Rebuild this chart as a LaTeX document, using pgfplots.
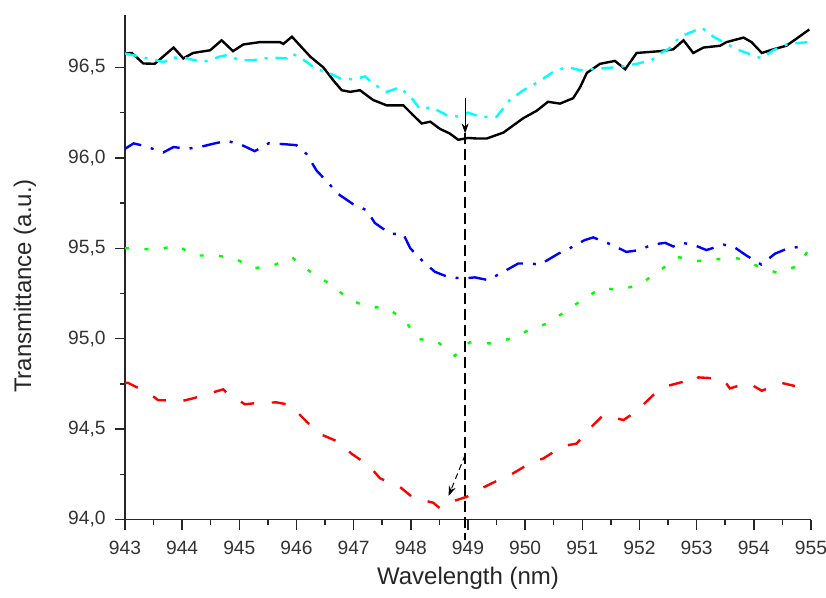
\documentclass[border=0pt]{standalone}
\usepackage{fontspec}
\setmainfont{Liberation Sans}
\usepackage{pgfplots}
\pgfplotsset{compat=1.18}
\usetikzlibrary{arrows.meta}
\definecolor{cCyan}{RGB}{0,255,255}
\definecolor{cBlue}{RGB}{0,0,255}
\definecolor{cGreen}{RGB}{0,255,0}
\definecolor{cRed}{RGB}{255,0,0}
\begin{document}
\begin{tikzpicture}
\begin{axis}[
  name=ax,
  scale only axis,
  width=343pt, height=252.25pt,
  xmin=943, xmax=955, ymin=94, ymax=96.79,
  axis x line=bottom, axis y line=left,
  axis line style={-, line width=0.75pt, black!85},
  xtick={943,944,945,946,947,948,949,950,951,952,953,954,955},
  ytick={94,94.5,95,95.5,96,96.5},
  minor x tick num=1, minor y tick num=1,
  tick align=outside,
  major tick length=5pt, minor tick length=2.5pt,
  every tick/.style={line width=0.75pt, black!85},
  /pgf/number format/assume math mode=true,
  xticklabel style={font=\fontsize{9.6}{11}\selectfont, text=black!80, yshift=-2.5pt,
    /pgf/number format/.cd, fixed, precision=0, 1000 sep={}},
  yticklabel style={font=\fontsize{9.6}{11}\selectfont, text=black!80, xshift=-1.2pt,
    /pgf/number format/.cd, use comma, fixed, fixed zerofill, precision=1},
  xlabel={Wavelength (nm)}, ylabel={Transmittance (a.u.)},
  label style={font=\fontsize{12}{14}\selectfont, text=black!85},
  xlabel style={at={(axis description cs:0.5,-0.116)}, anchor=center},
  ylabel style={at={(axis description cs:-0.1458,0.463)}, anchor=center},
  clip=false,
]
% black solid
\addplot[black, line width=1.2pt] coordinates {
(943.0,96.577)(943.12,96.58)(943.32,96.522)(943.52,96.52)(943.85,96.61)(944.02,96.55)(944.19,96.58)(944.49,96.595)(944.69,96.65)(944.89,96.59)(945.07,96.627)(945.36,96.64)(945.71,96.64)(945.77,96.63)(945.92,96.67)(946.24,96.56)(946.47,96.50)(946.64,96.43)(946.79,96.374)(946.94,96.365)(947.11,96.374)(947.34,96.32)(947.58,96.29)(947.87,96.29)(948.04,96.236)(948.19,96.19)(948.34,96.20)(948.51,96.16)(948.68,96.135)(948.83,96.10)(949.0,96.11)(949.15,96.107)(949.33,96.107)(949.62,96.14)(949.97,96.22)(950.20,96.26)(950.40,96.31)(950.61,96.30)(950.84,96.33)(950.96,96.39)(951.08,96.47)(951.31,96.52)(951.57,96.536)(951.75,96.49)(951.95,96.58)(952.36,96.59)(952.59,96.60)(952.77,96.65)(952.94,96.58)(953.12,96.61)(953.41,96.62)(953.52,96.64)(953.82,96.665)(953.96,96.64)(954.14,96.58)(954.34,96.60)(954.57,96.62)(954.75,96.66)(954.97,96.71)
};
% cyan dash-dot
\addplot[cCyan, line width=1.2pt, dash pattern=on 6pt off 4pt on 1.5pt off 4pt] coordinates {
(943.0,96.577)(943.26,96.56)(943.67,96.53)(943.85,96.555)(944.08,96.55)(944.37,96.53)(944.66,96.56)(944.78,96.568)(945.01,96.54)(945.24,96.54)(945.54,96.555)(945.83,96.55)(945.92,96.577)(946.09,96.55)(946.35,96.49)(946.53,96.475)(946.76,96.44)(946.99,96.434)(947.2,96.45)(947.34,96.41)(947.58,96.365)(947.81,96.39)(948.04,96.32)(948.16,96.27)(948.36,96.28)(948.63,96.236)(948.86,96.227)(949.0,96.25)(949.21,96.227)(949.5,96.227)(949.73,96.32)(949.97,96.374)(950.23,96.42)(950.49,96.475)(950.73,96.503)(950.96,96.485)(951.31,96.494)(951.66,96.503)(951.95,96.52)(952.21,96.54)(952.36,96.577)(952.52,96.605)(952.71,96.67)(952.94,96.70)(953.09,96.72)(953.29,96.67)(953.47,96.64)(953.70,96.60)(953.90,96.577)(954.14,96.55)(954.34,96.595)(954.6,96.63)(954.95,96.64)
};
% blue dash-dot
\addplot[cBlue, line width=1.2pt, dash pattern=on 9pt off 5pt on 1.5pt off 5pt] coordinates {
(943.0,96.05)(943.15,96.08)(943.35,96.065)(943.67,96.03)(943.85,96.06)(944.08,96.05)(944.31,96.06)(944.57,96.08)(944.78,96.094)(945.01,96.076)(945.27,96.037)(945.51,96.08)(945.77,96.076)(946.0,96.07)(946.18,96.02)(946.35,95.93)(946.56,95.86)(946.73,95.80)(946.99,95.744)(947.23,95.71)(947.37,95.64)(947.64,95.58)(947.87,95.578)(947.99,95.50)(948.22,95.425)(948.42,95.37)(948.66,95.34)(948.92,95.333)(949.12,95.339)(949.35,95.324)(949.62,95.37)(949.88,95.416)(950.08,95.416)(950.26,95.41)(950.58,95.47)(950.78,95.50)(951.04,95.545)(951.19,95.56)(951.31,95.545)(951.51,95.52)(951.77,95.48)(952.01,95.49)(952.21,95.52)(952.45,95.53)(952.59,95.51)(952.74,95.53)(952.94,95.52)(953.17,95.49)(953.47,95.52)(953.64,95.51)(953.87,95.46)(954.13,95.41)(954.37,95.47)(954.6,95.50)(954.86,95.51)
};
% green dotted
\addplot[cGreen, line width=1.2pt, dash pattern=on 2pt off 7.75pt] coordinates {
(943.0,95.50)(943.2,95.50)(943.55,95.49)(943.9,95.517)(944.22,95.46)(944.59,95.46)(944.92,95.444)(945.24,95.39)(945.56,95.40)(945.92,95.45)(946.24,95.37)(946.6,95.30)(946.91,95.22)(947.23,95.176)(947.58,95.17)(947.88,95.107)(948.13,94.998)(948.45,94.987)(948.77,94.905)(949.03,94.98)(949.38,94.974)(949.72,94.998)(950.07,95.048)(950.39,95.085)(950.75,95.16)(951.02,95.22)(951.33,95.28)(951.66,95.27)(952.01,95.30)(952.34,95.375)(952.69,95.45)(953.02,95.43)(953.38,95.44)(953.72,95.444)(954.08,95.40)(954.41,95.364)(954.75,95.40)(954.96,95.49)
};
% red dashed
\addplot[cRed, line width=1.2pt, dash pattern=on 7pt off 8.8pt] coordinates {
(943.0,94.756)(943.05,94.756)(943.44,94.694)(943.58,94.66)(944.02,94.657)(944.19,94.67)(944.57,94.706)(944.72,94.72)(944.78,94.70)(945.10,94.637)(945.24,94.642)(945.65,94.648)(945.89,94.633)(946.18,94.54)(946.41,94.473)(946.73,94.43)(946.97,94.362)(947.26,94.30)(947.46,94.228)(947.81,94.18)(948.04,94.12)(948.39,94.093)(948.51,94.062)(948.66,94.093)(948.98,94.126)(949.18,94.163)(949.53,94.218)(949.76,94.25)(950.08,94.31)(950.32,94.338)(950.66,94.406)(950.9,94.42)(951.16,94.513)(951.37,94.578)(951.72,94.55)(951.95,94.60)(952.24,94.688)(952.48,94.738)(952.83,94.767)(952.94,94.753)(953.03,94.786)(953.35,94.78)(953.47,94.775)(953.58,94.725)(953.90,94.756)(954.14,94.712)(954.48,94.756)(954.72,94.738)
};
% vertical dashed marker line
\addplot[black, line width=0.9pt, dash pattern=on 5.5pt off 2.5pt] coordinates {(948.95,96.14)(948.95,93.887)};
% arrows
\addplot[black, line width=0.5pt, -{Stealth[length=5pt,width=3.5pt]}] coordinates {(948.95,96.33)(948.95,96.135)};
\addplot[black, line width=0.5pt, densely dashed, -{Stealth[length=5pt,width=3.5pt]}] coordinates {(948.95,94.357)(948.66,94.13)};
\end{axis}
\pgfresetboundingbox
\path[use as bounding box] ([shift={(-62.5pt,-38.75pt)}]ax.south west) rectangle ([shift={(7.5pt,7.5pt)}]ax.north east);
\end{tikzpicture}
\end{document}
